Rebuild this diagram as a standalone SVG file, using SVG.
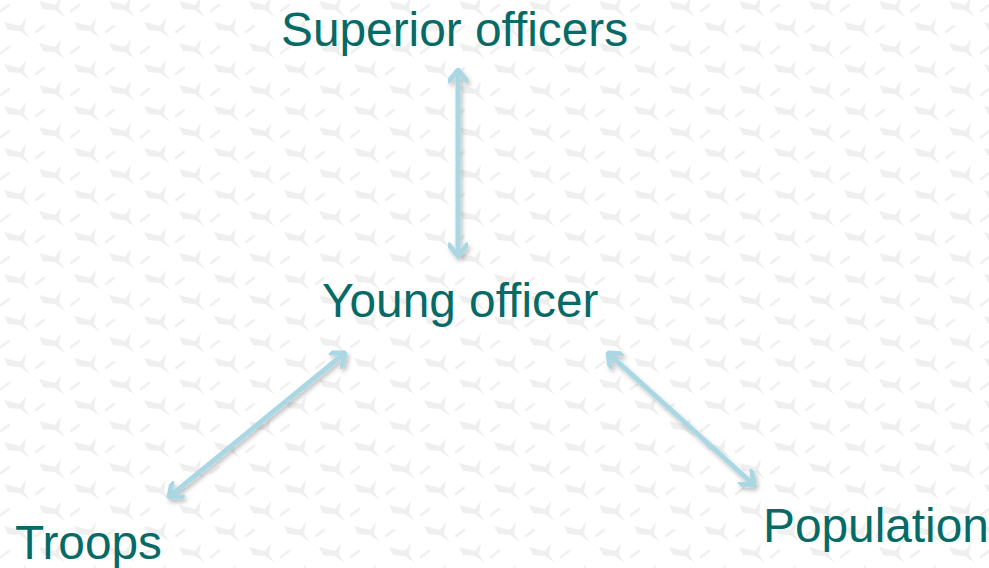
<svg xmlns="http://www.w3.org/2000/svg" width="989" height="568" viewBox="0 0 989 568">
<defs>
<pattern id="bg" width="70" height="42" patternUnits="userSpaceOnUse">
<rect width="70" height="42" fill="#ffffff"/>
<g fill="#efefef">
<path d="M4 22 L20 26 L26 18 L24 30 L30 38 L20 31 L8 30 Z"/>
<path d="M39 1 L55 5 L61 -3 L59 9 L65 17 L55 10 L43 9 Z"/>
<path d="M39 43 L55 47 L61 39 L59 51 L65 59 L55 52 L43 51 Z"/>
</g>
<g stroke="#f0f0f0" stroke-width="2.5" stroke-linecap="round">
<line x1="36" y1="32" x2="44" y2="26"/>
<line x1="1" y1="11" x2="9" y2="5"/>
</g>
</pattern>
<marker id="ah" viewBox="-14 -10 16 20" refX="0" refY="0" markerWidth="16" markerHeight="20" markerUnits="userSpaceOnUse" orient="auto-start-reverse">
<path d="M-11 -9 L0 0 L-11 9" fill="none" stroke="#a9d7e3" stroke-width="5" stroke-linecap="round" stroke-linejoin="round"/>
</marker>
<filter id="sh" filterUnits="userSpaceOnUse" x="0" y="0" width="989" height="568">
<feDropShadow dx="2" dy="3" stdDeviation="2" flood-color="#000" flood-opacity="0.25"/>
</filter>
<style>
.lbl{font-family:"Liberation Sans",Arial,sans-serif;font-size:47.8px;fill:#066b67}
.arr{stroke:#a9d7e3;stroke-width:5;fill:none;marker-start:url(#ah);marker-end:url(#ah);filter:url(#sh)}
</style>
</defs>
<rect width="989" height="568" fill="url(#bg)"/>
<g id="connectors">
<line class="arr" x1="458" y1="70" x2="458" y2="256"/>
<line class="arr" x1="169" y1="497" x2="345" y2="353"/>
<line class="arr" x1="608" y1="353" x2="754" y2="485"/>
</g>
<g id="superior"><text class="lbl" x="281" y="46">Superior officers</text></g>
<g id="young"><text class="lbl" x="322" y="317">Young officer</text></g>
<g id="troops"><text class="lbl" x="15" y="559">Troops</text></g>
<g id="population"><text class="lbl" x="763" y="542">Population</text></g>
</svg>
